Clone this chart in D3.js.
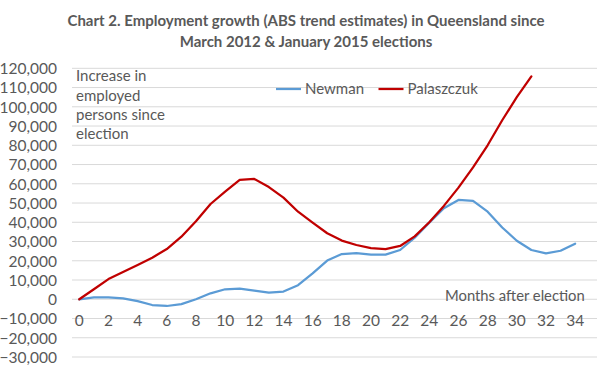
<!DOCTYPE html>
<html>
<head>
<meta charset="utf-8">
<script src="https://cdn.jsdelivr.net/npm/d3@7"></script>
<style>
  html, body { margin: 0; padding: 0; background: #fff; }
  svg text { font-family: Lato, "Open Sans", sans-serif; fill: #595959; }
</style>
</head>
<body>
<svg id="chart" width="612" height="379"></svg>
<script>
// ---- data ----
const titleLines = [
  "Chart 2. Employment growth (ABS trend estimates) in Queensland since",
  "March 2012 & January 2015 elections"
];
const months = d3.range(0, 36);            // category slots 0..35
const xTickLabels = [0,2,4,6,8,10,12,14,16,18,20,22,24,26,28,30,32,34];
const yTickValues = [-30000,-20000,-10000,0,10000,20000,30000,40000,50000,60000,70000,80000,90000,100000,110000,120000];
const seriesNames = ["Newman", "Palaszczuk"];
const newman = [0, 1000, 1000, 500, -1000, -3000, -3500, -2500, 0, 3100, 5200, 5500, 4500, 3400, 4000, 7300, 13500, 20100, 23500, 24000, 23200, 23200, 25600, 32000, 39800, 47300, 51600, 51100, 45500, 37300, 30400, 25600, 23800, 25200, 28900];
const palaszczuk = [0, 5200, 10500, 14200, 17800, 21600, 26100, 32500, 40500, 49500, 55900, 62000, 62500, 58300, 52800, 45500, 39800, 34300, 30500, 28200, 26600, 26100, 27700, 32700, 40000, 48500, 58000, 68500, 80000, 93000, 105000, 115800];
const yAxisNote = ["Increase in", "employed", "persons since", "election"];
const xAxisNote = "Months after election";

// ---- layout ----
const svg = d3.select("#chart");
const colors = { Newman: "#5B9BD5", Palaszczuk: "#C00000" };
const plot = { left: 72, right: 597, top: 68.3, bottom: 357 };

const x = d3.scaleBand().domain(months).range([plot.left, plot.right]).paddingInner(0).paddingOuter(0);
const xc = m => x(m) + x.bandwidth() / 2;
const y = d3.scaleLinear().domain([-30000, 120000]).range([plot.bottom, plot.top]);

// title
svg.append("g").selectAll("text").data(titleLines).join("text")
  .attr("x", 306).attr("y", (d, i) => 26 + i * 20.5)
  .attr("text-anchor", "middle")
  .style("font-size", "15px").style("font-weight", "bold")
  .text(d => d);

// gridlines
svg.append("g").selectAll("line").data(yTickValues).join("line")
  .attr("x1", plot.left).attr("x2", plot.right)
  .attr("y1", d => y(d)).attr("y2", d => y(d))
  .attr("stroke", "#D9D9D9").attr("stroke-width", 1);

// y axis labels
const yAxis = d3.axisLeft(y).tickValues(yTickValues).tickSize(0).tickPadding(0)
  .tickFormat(d3.format(","));
const gy = svg.append("g").attr("transform", `translate(57,0)`).call(yAxis);
gy.select(".domain").remove();
gy.selectAll("text").style("font-size", "15.5px").style("fill", "#595959")
  .attr("dy", "0.35em").style("font-family", "Lato, sans-serif");

// x axis labels
const xAxis = d3.axisBottom(x).tickValues(xTickLabels).tickSize(0).tickPadding(0);
const gx = svg.append("g").attr("transform", `translate(0,${y(0)})`).call(xAxis);
gx.select(".domain").remove();
gx.selectAll("text").style("font-size", "15.5px").style("fill", "#595959")
  .attr("y", 21).attr("dy", "0.35em").style("font-family", "Lato, sans-serif");

// lines
const line = d3.line().x((d, i) => xc(i)).y(d => y(d));
[["Newman", newman], ["Palaszczuk", palaszczuk]].forEach(([name, vals]) => {
  svg.append("path").datum(vals)
    .attr("fill", "none").attr("stroke", colors[name])
    .attr("stroke-width", 2.25).attr("stroke-linejoin", "round").attr("stroke-linecap", "round")
    .attr("d", line);
});

// legend
const legendPos = [{ x1: 276, tx: 305 }, { x1: 378.5, tx: 407.5 }];
const lg = svg.append("g");
seriesNames.forEach((name, i) => {
  lg.append("line").attr("x1", legendPos[i].x1).attr("x2", legendPos[i].x1 + 25)
    .attr("y1", 89).attr("y2", 89).attr("stroke", colors[name]).attr("stroke-width", 2.25);
  lg.append("text").attr("x", legendPos[i].tx).attr("y", 89).attr("dy", "0.35em")
    .style("font-size", "15px").text(name);
});

// notes
svg.append("g").selectAll("text").data(yAxisNote).join("text")
  .attr("x", 76).attr("y", (d, i) => 76 + i * 19.3).attr("dy", "0.35em")
  .style("font-size", "15px").text(d => d);
svg.append("text").attr("x", 445).attr("y", 296).attr("dy", "0.35em")
  .style("font-size", "14.8px").text(xAxisNote);
</script>
</body>
</html>
